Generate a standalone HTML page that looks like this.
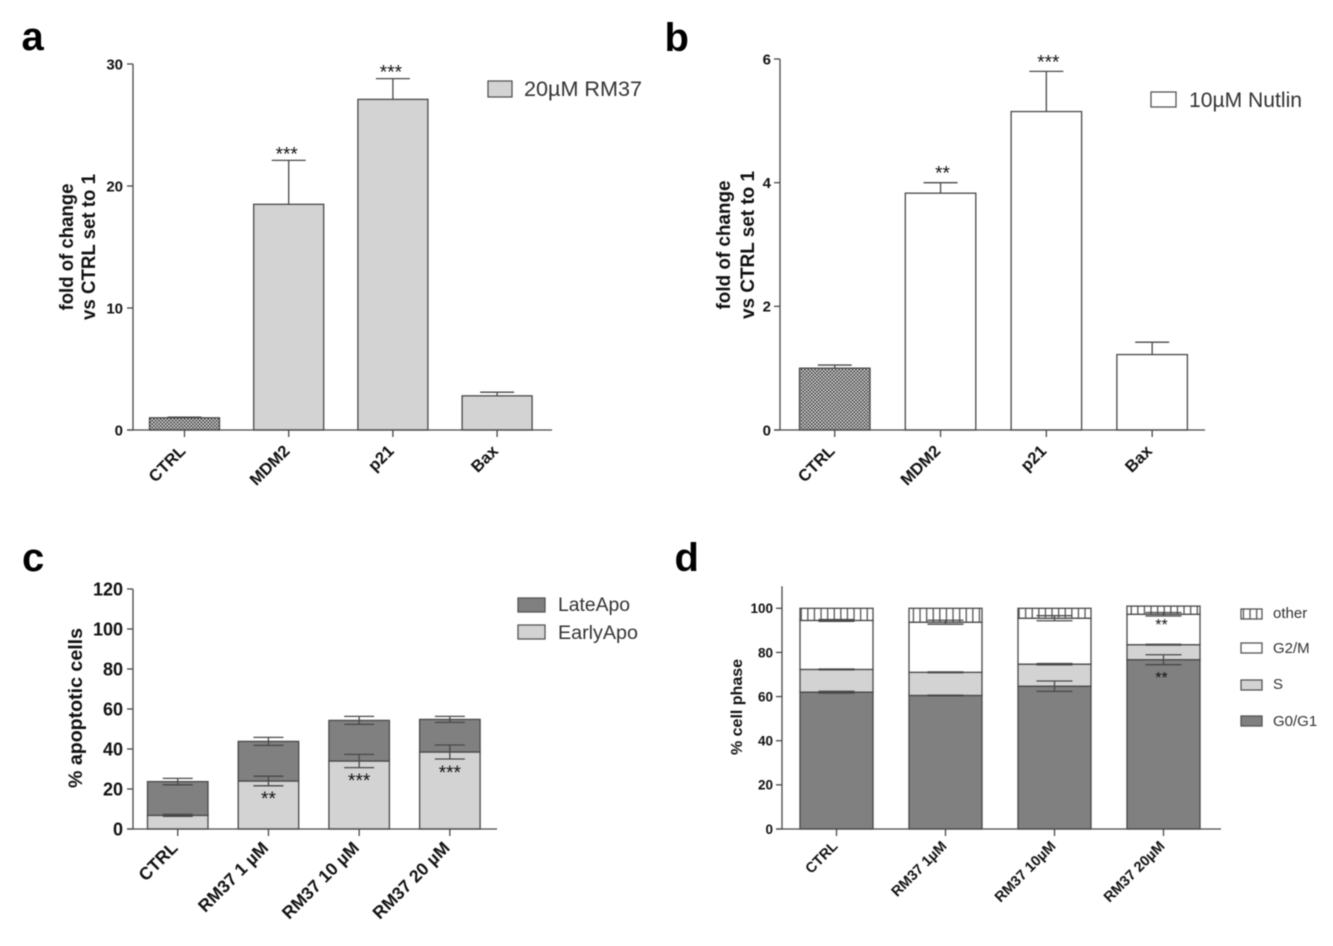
<!DOCTYPE html>
<html>
<head>
<meta charset="utf-8">
<style>
html,body{margin:0;padding:0;background:#fff;width:1333px;height:946px;overflow:hidden}
svg{display:block;filter:blur(0.65px)}
text{font-family:"Liberation Sans",sans-serif;fill:#111}
.b{font-weight:bold}
</style>
</head>
<body>
<svg id="fig" xmlns="http://www.w3.org/2000/svg" width="1333" height="946" viewBox="0 0 1333 946">
<defs>
<pattern id="checker" width="3.4" height="3.4" patternUnits="userSpaceOnUse">
<rect width="3.4" height="3.4" fill="#e8e8e8"/>
<rect width="1.7" height="1.7" fill="#333"/>
<rect x="1.7" y="1.7" width="1.7" height="1.7" fill="#333"/>
</pattern>
<pattern id="hatch" width="6.6" height="6.6" patternUnits="userSpaceOnUse">
<rect width="6.6" height="6.6" fill="#fff"/>
<rect x="2" width="1.3" height="6.6" fill="#555"/>
</pattern>
</defs>
<rect width="1333" height="946" fill="#fff"/>

<text class="b" x="21.5" y="50" font-size="40" style="fill:#000">a</text>
<text class="b" x="664.5" y="51" font-size="40" style="fill:#000">b</text>
<text class="b" x="22" y="571" font-size="40" style="fill:#000">c</text>
<text class="b" x="674.5" y="571" font-size="40" style="fill:#000">d</text>

<g id="chart-a">
<text class="b" transform="translate(73,247) rotate(-90)" text-anchor="middle" font-size="19" textLength="127" lengthAdjust="spacingAndGlyphs">fold of change</text>
<text class="b" transform="translate(95,247) rotate(-90)" text-anchor="middle" font-size="19" textLength="146" lengthAdjust="spacingAndGlyphs">vs CTRL set to 1</text>
<rect x="488" y="81" width="24" height="16" fill="#d3d3d3" stroke="#555" stroke-width="1.3"/>
<text x="524" y="96" font-size="21" textLength="118" lengthAdjust="spacingAndGlyphs" style="fill:#333">20µM RM37</text>
</g>

<g id="chart-b">
<text class="b" transform="translate(730,245) rotate(-90)" text-anchor="middle" font-size="19" textLength="129" lengthAdjust="spacingAndGlyphs">fold of change</text>
<text class="b" transform="translate(754,245) rotate(-90)" text-anchor="middle" font-size="19" textLength="148" lengthAdjust="spacingAndGlyphs">vs CTRL set to 1</text>
<rect x="1151" y="92" width="25" height="15" fill="#fff" stroke="#555" stroke-width="1.3"/>
<text x="1189" y="107" font-size="21" textLength="113" lengthAdjust="spacingAndGlyphs" style="fill:#333">10µM Nutlin</text>
</g>

<g id="chart-c">
<text class="b" transform="translate(82,708) rotate(-90)" text-anchor="middle" font-size="19" textLength="160" lengthAdjust="spacingAndGlyphs">% apoptotic cells</text>
<rect x="518" y="598" width="27" height="14" fill="#808080" stroke="#555" stroke-width="1.3"/>
<text x="558" y="611" font-size="19" textLength="72" lengthAdjust="spacingAndGlyphs" style="fill:#333">LateApo</text>
<rect x="518" y="625" width="27" height="14" fill="#d3d3d3" stroke="#555" stroke-width="1.3"/>
<text x="558" y="639" font-size="19" textLength="80" lengthAdjust="spacingAndGlyphs" style="fill:#333">EarlyApo</text>
</g>

<g id="chart-d">
<text class="b" transform="translate(742,707) rotate(-90)" text-anchor="middle" font-size="15.5" textLength="96" lengthAdjust="spacingAndGlyphs">% cell phase</text>
<rect x="1241" y="609" width="21" height="10" fill="url(#hatch)" stroke="#555" stroke-width="1.3"/>
<text x="1273" y="618" font-size="15" style="fill:#333">other</text>
<rect x="1241" y="643" width="21" height="10" fill="#fff" stroke="#555" stroke-width="1.3"/>
<text x="1273" y="653" font-size="15" style="fill:#333">G2/M</text>
<rect x="1241" y="680" width="21" height="10" fill="#d3d3d3" stroke="#555" stroke-width="1.3"/>
<text x="1273" y="689" font-size="15" style="fill:#333">S</text>
<rect x="1241" y="716" width="21" height="10" fill="#808080" stroke="#555" stroke-width="1.3"/>
<text x="1273" y="726" font-size="15" style="fill:#333">G0/G1</text>
</g>
</svg>

<script>
// Chart a
const aCategories = ['CTRL', 'MDM2', 'p21', 'Bax'];
const aValues = [1.0, 18.5, 27.1, 2.8];
const aErrors = [0.05, 3.6, 1.7, 0.3];
const aStars = ['', '***', '***', ''];
const aTicks = [0, 10, 20, 30];

// Chart b
const bCategories = ['CTRL', 'MDM2', 'p21', 'Bax'];
const bValues = [1.0, 3.83, 5.15, 1.22];
const bErrors = [0.05, 0.17, 0.65, 0.2];
const bStars = ['', '**', '***', ''];
const bTicks = [0, 2, 4, 6];

// Chart c
const cCategories = ['CTRL', 'RM37 1 µM', 'RM37 10 µM', 'RM37 20 µM'];
const cEarly = [6.8, 24, 34, 38.5];
const cLate = [16.9, 19.8, 20.3, 16.3];
const cEarlyErrors = [0.5, 2.4, 3.3, 3.5];
const cLateErrors = [1.6, 2, 2, 1.5];
const cStars = ['', '**', '***', '***'];
const cStarValues = [0, 17, 26, 30];
const cTicks = [0, 20, 40, 60, 80, 100, 120];

// Chart d
const dCategories = ['CTRL', 'RM37 1µM', 'RM37 10µM', 'RM37 20µM'];
const dG0G1 = [62, 60.5, 64.7, 76.7];
const dS = [10.3, 10.5, 10, 6.8];
const dG2M = [22.2, 22.7, 20.8, 13.8];
const dOther = [5.5, 6.3, 4.5, 3.7];
const dG0G1Errors = [0.4, 0.15, 2.35, 2.25];
const dSErrors = [0.2, 0.2, 0.3, 0.2];
const dG2MErrors = [0.4, 0.9, 1.15, 0.8];
const dStarLabels = ['**', '**'];
const dStarCategory = [3, 3];
const dStarValues = [94.2, 70.2];
const dTicks = [0, 20, 40, 60, 80, 100];

const NS = 'http://www.w3.org/2000/svg';
const STROKE = '#484848';

function mk(parent, tag, attrs, txt) {
  const el = document.createElementNS(NS, tag);
  for (const k in attrs) el.setAttribute(k, attrs[k]);
  if (txt !== undefined) el.textContent = txt;
  parent.appendChild(el);
  return el;
}

function yScale(y0, yTop, max) {
  return function (v) { return y0 - v * (y0 - yTop) / max; };
}
function bandScale(left, step, width) {
  return {
    left: function (i) { return left + i * step; },
    center: function (i) { return left + i * step + width / 2; },
    width: width
  };
}

function drawAxes(g, c) {
  const yLine = mk(g, 'line', { x1: c.axisX, x2: c.axisX, y1: c.y(c.yMax), y2: c.y(0), stroke: STROKE, 'stroke-width': 1.3 });
  
  
  const xLine = mk(g, 'line', { x1: c.axisX - 6, x2: c.xEnd, y1: c.y(0), y2: c.y(0), stroke: STROKE, 'stroke-width': 1.3 });
  
  
  c.ticks.forEach(function (t) {
    const tick = mk(g, 'line', { x1: c.axisX - 6, x2: c.axisX, y1: c.y(t), y2: c.y(t), stroke: STROKE, 'stroke-width': 1.3 });
    
    
    const lab = mk(g, 'text', { x: c.axisX - c.tickGap, y: c.y(t) + c.tickFont * 0.36, 'text-anchor': 'end', 'font-size': c.tickFont, class: 'b' }, String(t));
    
    
  });
  c.categories.forEach(function (cat, i) {
    const cx = c.x.center(i);
    const tick = mk(g, 'line', { x1: cx, x2: cx, y1: c.y(0), y2: c.y(0) + 7, stroke: STROKE, 'stroke-width': 1.3 });
    
    
    const ax = cx + c.labelDx;
    const ay = c.y(0) + c.labelDy;
    const lab = mk(g, 'text', { transform: 'translate(' + ax + ',' + ay + ') rotate(-45)', 'text-anchor': 'end', 'font-size': c.labelFont, class: 'b' }, cat);
    
    
  });
}

function drawError(g, c, i, centre, err) {
  const cx = c.x.center(i);
  const stem = mk(g, 'line', { x1: cx, x2: cx, y1: c.y(centre - (c.upOnly ? 0 : err)), y2: c.y(centre + err), stroke: STROKE, 'stroke-width': 1.3 });
  
  
  const top = mk(g, 'line', { x1: cx - c.cap / 2, x2: cx + c.cap / 2, y1: c.y(centre + err), y2: c.y(centre + err), stroke: STROKE, 'stroke-width': 1.3 });
  
  
  if (!c.upOnly) {
    const bot = mk(g, 'line', { x1: cx - c.cap / 2, x2: cx + c.cap / 2, y1: c.y(centre - err), y2: c.y(centre - err), stroke: STROKE, 'stroke-width': 1.3 });
    
    
  }
}

function drawSimple(g, c, values, errors, stars, fill) {
  values.forEach(function (v, i) {
    const f = i === 0 ? 'url(#checker)' : fill;
    drawError(g, c, i, v, errors[i]);
    const r = mk(g, 'rect', { x: c.x.left(i), y: c.y(v), width: c.x.width, height: c.y(0) - c.y(v), fill: f, stroke: STROKE, 'stroke-width': 1.3 });
    
    
    if (stars[i]) {
      const s = mk(g, 'text', { x: c.x.center(i) + c.starDx, y: c.y(v + errors[i]) + c.starDy, 'text-anchor': 'middle', 'font-size': 19 }, stars[i]);
      
      
    }
  });
}

function drawStack(g, c, series, fills, names) {
  const base = c.categories.map(function () { return 0; });
  series.forEach(function (values, s) {
    values.forEach(function (v, i) {
      const r = mk(g, 'rect', { x: c.x.left(i), y: c.y(base[i] + v), width: c.x.width, height: c.y(base[i]) - c.y(base[i] + v), fill: fills[s], stroke: STROKE, 'stroke-width': 1.3 });
      
      
      base[i] += v;
    });
  });
}

function drawStackErrors(g, c, series, errors) {
  const base = c.categories.map(function () { return 0; });
  series.forEach(function (values, s) {
    values.forEach(function (v, i) {
      base[i] += v;
      if (errors[s]) drawError(g, c, i, base[i], errors[s][i]);
    });
  });
}

const cfgA = { axisX: 133, xEnd: 552, yMax: 30, y: yScale(430, 64, 30), x: bandScale(149.5, 104.2, 70), ticks: aTicks, categories: aCategories, tickFont: 15, tickGap: 10, labelFont: 16.5, labelDx: 2, labelDy: 22, cap: 34, upOnly: true, starDx: -2, starDy: 0 };
const cfgB = { axisX: 780, xEnd: 1205, yMax: 6, y: yScale(430, 59, 6), x: bandScale(799.5, 105.8, 70.5), ticks: bTicks, categories: bCategories, tickFont: 15, tickGap: 9, labelFont: 16.5, labelDx: 1, labelDy: 22, cap: 34, upOnly: true, starDx: 2, starDy: -3 };
const cfgC = { axisX: 133, xEnd: 497, yMax: 120, y: yScale(829, 589, 120), x: bandScale(147.5, 90.7, 60.5), ticks: cTicks, categories: cCategories, tickFont: 18, tickGap: 10, labelFont: 17.5, labelDx: 1, labelDy: 20, cap: 30, upOnly: false, starDx: 0, starDy: 0 };
const cfgD = { axisX: 782, xEnd: 1221, yMax: 110, y: yScale(829, 608.3, 100), x: bandScale(800, 109, 73), ticks: dTicks, categories: dCategories, tickFont: 13.5, tickGap: 9, labelFont: 14.5, labelDx: 2, labelDy: 18, cap: 36, upOnly: false, starDx: 0, starDy: 0 };

const gA = document.getElementById('chart-a');
const gB = document.getElementById('chart-b');
const gC = document.getElementById('chart-c');
const gD = document.getElementById('chart-d');

drawSimple(gA, cfgA, aValues, aErrors, aStars, '#d3d3d3');
drawAxes(gA, cfgA);
drawSimple(gB, cfgB, bValues, bErrors, bStars, '#ffffff');
drawAxes(gB, cfgB);

drawStack(gC, cfgC, [cEarly, cLate], ['#d3d3d3', '#808080'], ['earlyapo', 'lateapo']);
drawStackErrors(gC, cfgC, [cEarly, cLate], [cEarlyErrors, cLateErrors]);
cStars.forEach(function (label, i) {
  if (!label) return;
  const s = mk(gC, 'text', { x: cfgC.x.center(i), y: cfgC.y(cStarValues[i]) + 10, 'text-anchor': 'middle', 'font-size': 19 }, label);
  
  
});
drawAxes(gC, cfgC);

drawStack(gD, cfgD, [dG0G1, dS, dG2M, dOther], ['#808080', '#d3d3d3', '#ffffff', 'url(#hatch)'], ['g0g1', 's', 'g2m', 'other']);
drawStackErrors(gD, cfgD, [dG0G1, dS, dG2M], [dG0G1Errors, dSErrors, dG2MErrors]);
dStarLabels.forEach(function (label, n) {
  const s = mk(gD, 'text', { x: cfgD.x.center(dStarCategory[n]) - 2, y: cfgD.y(dStarValues[n]) + 9, 'text-anchor': 'middle', 'font-size': 16 }, label);
  
  
});
drawAxes(gD, cfgD);
</script>
</body>
</html>
